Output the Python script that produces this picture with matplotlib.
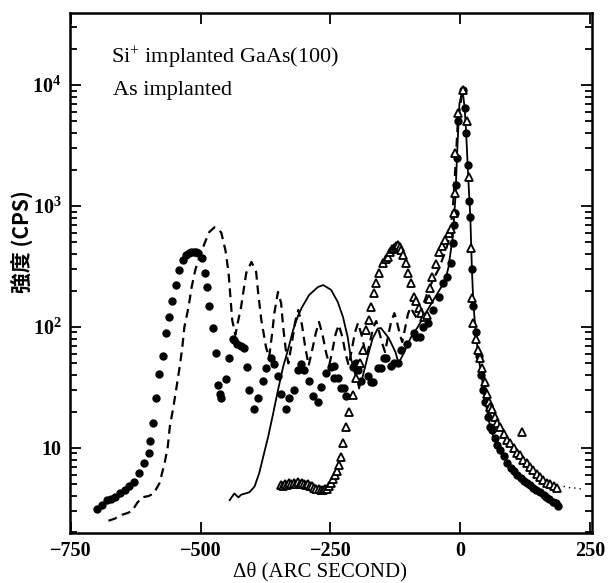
import matplotlib
matplotlib.use("Agg")
import matplotlib.pyplot as plt
from matplotlib.ticker import LogLocator, FixedLocator, FixedFormatter, NullFormatter

plt.rcParams['font.family'] = ['Liberation Serif', 'DejaVu Serif']
plt.rcParams['mathtext.fontset'] = 'custom'
plt.rcParams['mathtext.rm'] = 'Liberation Serif'
plt.rcParams['mathtext.it'] = 'Liberation Serif:italic'
plt.rcParams['mathtext.bf'] = 'Liberation Serif:bold'

# ---------------- data ----------------
dots = [[-700,3.1],[-690,3.4],[-680,3.7],[-672,3.8],[-665,3.9],[-655,4.2],[-646,4.5],[-637,4.8],[-628,5.2],
        [-619,6.2],[-609,7.5],[-600,9.1],[-598,11.4],[-592,16],[-586,26],[-580,41],[-573,58],[-567,89],[-560,121],
        [-554,164],[-548,222],[-542,296],[-533,358],[-528,390],[-523,410],[-518,420],[-513,418],[-508,415],[-504,410],
        [-498,370],[-492,280],[-487,215],[-483,149],[-475,98],[-471,61],[-466,33],[-462,28],[-460,26],[-450,37],
        [-446,55],[-438,80],[-435,78],[-430,72],[-422,70],[-416,67],[-410,47],[-406,30],[-398,21],[-389,26],[-379,36],
        [-374,46],[-364,55],[-358,49],[-351,39],[-345,28],[-335,21],[-330,26],[-320,30],[-312,44],[-307,49],[-301,44],
        [-291,36],[-283,27],[-274,24],[-268,32],[-259,42],[-249,47],[-243,48],[-243,38],[-236,38],[-230,31],[-224,31],
        [-220,27],[-207,47],[-201,50],[-197,44],[-192,36],[-178,39],[-172,35],[-169,35],[-159,46],[-153,46],[-147,55],
        [-144,55],[-134,48],[-128,50],[-121,50],[-115,64],[-102,72],[-90,89],[-86,83],[-77,83],[-73,100],[-63,108],
        [-52,138],[-42,177],[-33,231],[-25,259],[-19,338],[-15,494],[-13,700],[-10,870],[-8,1500],[-6,2500],[-4,5000],
        [4,9100],[8,6500],[11,4000],[14,2200],[17,1100],[19,810],[22,300],[25,150],[30,90],[35,58],[40,40],[44,30],
        [48,24],[53,18],[57,15],[61,14],[66,12],[71,10.5],[77,9.6],[83,8.5],[90,7.5],[97,6.8],[103,6.4],[109,6.0],
        [116,5.6],[122,5.3],[128,5.1],[134,4.9],[140,4.7],[146,4.5],[153,4.3],[160,4.1],[165,3.9],[170,3.8],[178,3.6],
        [183,3.5],[188,3.3]]

triangles = [[-345,4.9],[-341,4.8],[-337,5.0],[-333,4.9],[-329,5.1],[-325,5.0],[-321,5.1],[-317,5.0],[-313,5.2],
             [-309,5.0],[-305,5.1],[-301,5.0],[-297,4.9],[-293,5.0],[-289,4.8],[-285,4.8],[-281,4.7],[-277,4.6],
             [-273,4.6],[-269,4.5],[-265,4.5],[-261,4.6],[-257,4.6],[-253,4.8],[-249,5.1],[-245,5.5],[-241,6.0],
             [-237,6.5],[-233,7.2],[-230,8.4],[-226,11],[-220,15],[-214,20],[-207,27.5],[-200,38],[-194,50],[-188,64],
             [-182,94],[-176,114],[-172,146],[-166,190],[-163,231],[-157,279],[-149,337],[-144,365],[-140,380],
             [-135,420],[-131,440],[-128,450],[-124,470],[-121,478],[-117,455],[-114,430],[-111,395],[-105,337],
             [-100,279],[-96,231],[-90,177],[-86,165],[-80,143],[-75,130],[-70,122],[-65,125],[-61,170],[-58,210],
             [-54,260],[-48,330],[-42,420],[-35,470],[-29,520],[-23,600],[-19,650],[-13,870],[-11,1280],[-10,2750],
             [-4,5900],[4,9100],[12,5000],[15.6,1730],[21,450],[22,174],[25,108],[30,80],[34,64],[38,55],[42,46],
             [47,35],[51,28],[55,24],[57,22],[61,21],[66,18],[71,16],[77,15],[83,13],[90,11.6],[96,11],[103,10],
             [109,9.1],[115,8.8],[121,8],[128,7.5],[134,7],[140,6.6],[147,6.1],[153,5.7],[159,5.4],[166,5.1],
             [172,5.0],[179,4.8],[186,4.7],[119,13.5]]

dashed = [[-677,2.5],[-665,2.6],[-651,2.8],[-640,2.9],[-632,3.0],[-622,3.5],[-613,3.9],[-600,4.0],[-590,4.2],
          [-579,5.1],[-569,7.5],[-563,10.2],[-559,15],[-552,22],[-546,32],[-540,47],[-535,68],[-531,100],[-523,146],
          [-517,214],[-510,296],[-502,380],[-492,493],[-483,610],[-473,667],[-465,640],[-460,600],[-452,430],
          [-446,280],[-442,167],[-439,114],[-433,86],[-428,110],[-422,146],[-412,280],[-402,345],[-393,285],
          [-389,190],[-383,114],[-374,68],[-368,56],[-362,90],[-358,130],[-351,195],[-345,158],[-341,100],[-336,65],
          [-331,50],[-324,75],[-318,110],[-312,138],[-305,105],[-299,70],[-292,48],[-285,65],[-278,90],[-272,110],
          [-265,85],[-258,60],[-252,49],[-246,65],[-240,88],[-234,104],[-227,82],[-221,60],[-215,48],[-209,65],
          [-203,90],[-197,108],[-190,85],[-185,68],[-180,58],[-174,75],[-168,98],[-162,112],[-156,90],[-150,72],
          [-145,62],[-139,85],[-133,112],[-127,130],[-121,105],[-116,85],[-112,75],[-106,100],[-101,128],[-96,145],
          [-89,128],[-82,115],[-76,135],[-70,160],[-60,210],[-50,260],[-42,300],[-35,360],[-28,430],[-22,540],
          [-15,900],[-10,2000],[-5,5000],[4,9100]]

solid = [[-444,3.7],[-435,4.2],[-427,3.9],[-422,4.1],[-406,4.3],[-396,4.8],[-387,6.2],[-377,9.3],[-370,12.3],
         [-360,19.5],[-351,30],[-341,47],[-332,64],[-322,94],[-312,125],[-305,145],[-291,184],[-274,214],[-264,222],
         [-249,203],[-236,161],[-226,121],[-217,83],[-211,56],[-205,44],[-197,34],[-195,31],[-188,39],[-178,58],
         [-169,80],[-159,97],[-153,98],[-138,81],[-125,62],[-119,50],[-109,61],[-96,81],[-82,100],[-67,130],
         [-52,167],[-38,210],[-29,245],[-23,312],[-15,550],[-10,1120],[-6,3000],[-2,7000],[4,9100],[8,6500],
         [11,4000],[15,1700],[19,810],[22,300],[25,150],[30,85],[35,55],[42,36],[48,24],[57,15],[66,11.5],[77,9.6],
         [90,7.5],[109,6.0],[128,5.1],[153,4.3],[170,3.8],[188,3.3]]

dotted_tail = [[188,4.7],[196,4.8],[205,4.8],[214,4.6],[224,4.7],[236,4.5]]

xticks = [-750, -500, -250, 0, 250]
xticklabels = ["\u2212750", "\u2212500", "\u2212250", "0", "250"]
yticks = [10, 100, 1000, 10000]
yticklabels = ["10", r"$\mathbf{10^{2}}$", r"$\mathbf{10^{3}}$", r"$\mathbf{10^{4}}$"]

# ---------------- figure ----------------
fig = plt.figure(figsize=(6.12, 5.83), dpi=100)
ax = fig.add_axes([70/612, 1-533/583, 522/612, 520/583])

def xy(s):
    return [p[0] for p in s], [p[1] for p in s]

x, y = xy(dashed)
ax.plot(x, y, color='black', lw=1.6, linestyle=(0, (4, 2.6)))
x, y = xy(solid)
ax.plot(x, y, color='black', lw=1.3, linestyle='-')
x, y = xy(dotted_tail)
ax.plot(x, y, color='black', lw=1.0, linestyle=(0, (1, 3)))
x, y = xy(dots)
ax.plot(x, y, linestyle='none', marker='o', ms=5.0, mfc='black', mec='black')
x, y = xy(triangles)
ax.plot(x, y, linestyle='none', marker='^', ms=6.0, mfc='white', mec='black', mew=1.3)

ax.set_yscale('log')
ax.set_xlim(-751, 253)
ax.set_ylim(1.98, 39400)

ax.xaxis.set_major_locator(FixedLocator(xticks))
ax.xaxis.set_major_formatter(FixedFormatter(xticklabels))
ax.yaxis.set_major_locator(FixedLocator(yticks))
ax.yaxis.set_major_formatter(FixedFormatter(yticklabels))
ax.yaxis.set_minor_locator(LogLocator(base=10, subs=range(2, 10), numticks=20))
ax.yaxis.set_minor_formatter(NullFormatter())

ax.tick_params(which='both', direction='in', top=True, right=True, width=1.3)
ax.tick_params(which='major', length=8, labelsize=14.5, pad=6)
ax.tick_params(which='minor', length=5)
for lab in ax.get_xticklabels() + ax.get_yticklabels():
    lab.set_fontweight('bold')
for s in ax.spines.values():
    s.set_linewidth(1.8)

ax.text(-672, 15000, r"Si$^{+}$ implanted GaAs(100)", fontsize=16)
ax.text(-668, 8300, "As implanted", fontsize=16)

fig.text(320/612, 1-572/583, "\u0394\u03b8 (ARC SECOND)", ha='center', va='center', fontsize=15)
fig.text(22/612, 1-242/583, "強度 (CPS)", rotation=90, ha='center', va='center', fontsize=15,
         fontweight='bold', family=['Noto Sans CJK JP', 'DejaVu Sans'])

fig.savefig("out.png", dpi=100)
